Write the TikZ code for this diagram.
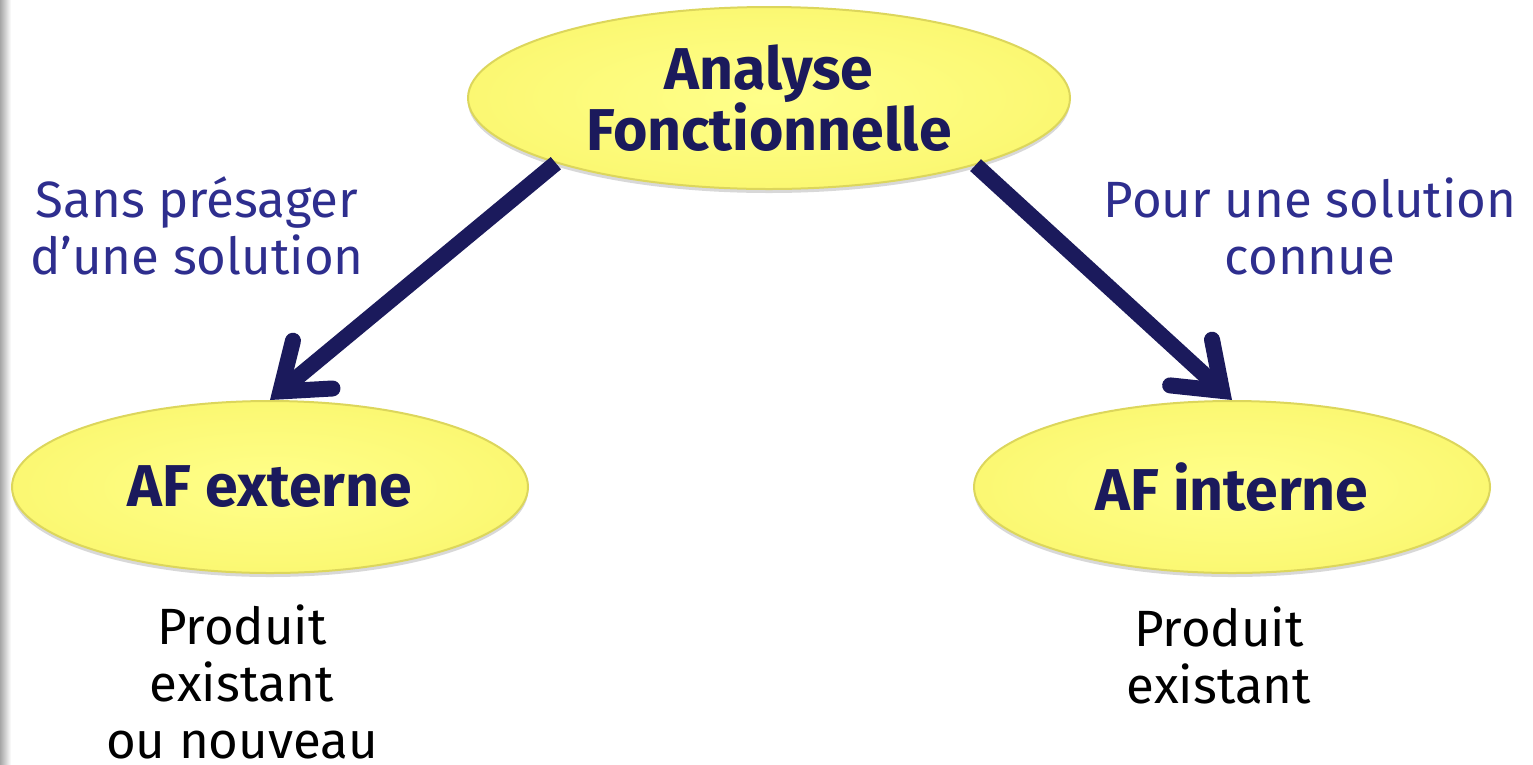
\documentclass[tikz,border=0pt]{standalone}
\usepackage{fontspec}
\setmainfont{Fira Sans}
\usetikzlibrary{shapes.geometric,arrows.meta,shadows}
\definecolor{navy}{HTML}{1B1A5C}
\definecolor{lblue}{HTML}{2E2E8E}
\definecolor{yin}{HTML}{FFFF8A}
\definecolor{yout}{HTML}{FBF872}
\definecolor{yrim}{HTML}{DCD65C}
\tikzset{
  bubble/.style={ellipse, inner sep=0pt, shading=radial, inner color=yin, outer color=yout,
    draw=yrim, line width=2pt, text=navy, align=center,
    font=\fontsize{59}{61}\selectfont\bfseries,
    drop shadow={shadow xshift=0pt, shadow yshift=-4pt, opacity=0.3}},
  conn/.style={draw=navy, line width=16pt,
    -{Straight Barb[length=42pt,width=62pt,line cap=round,line join=miter]}},
  lbl/.style={text=lblue, align=center, font=\fontsize{51}{57}\selectfont, inner sep=0pt},
  note/.style={text=black, align=center, font=\fontsize{51}{57}\selectfont, inner sep=0pt}
}
\begin{document}
\begin{tikzpicture}[x=1pt,y=-1pt]
\useasboundingbox (0,0) rectangle (1533,764);
\fill[white] (0,0) rectangle (1533,764);
\shade[left color=black!35, right color=white] (0,0) rectangle (11,764);
\node[bubble, minimum width=602pt, minimum height=182pt] (af) at (769,98) {Analyse\\Fonctionnelle};
\node[bubble, minimum width=516pt, minimum height=172pt] (ext) at (270,487) {AF externe};
\node[bubble, minimum width=516pt, minimum height=172pt] (int) at (1232,487) {AF interne};
\draw[conn] (af.197.5) -- (ext.north);
\draw[conn] (af.-18) -- (int.north);
\node[lbl] (l1) at (197,226) {Sans présager\\d’une solution};
\node[lbl] (l2) at (1310,226) {Pour une solution\\connue};
\node[note] (n1) at (242,682) {Produit\\existant\\ou nouveau};
\node[note] (n2) at (1219,655) {Produit\\existant};
\end{tikzpicture}
\end{document}
